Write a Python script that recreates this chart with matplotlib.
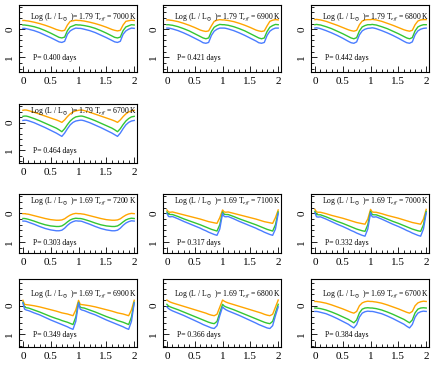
import numpy as np
import matplotlib
matplotlib.use("Agg")
import matplotlib.pyplot as plt
from matplotlib.ticker import MultipleLocator

plt.rcParams['font.family'] = ['Liberation Serif', 'DejaVu Serif']
plt.rcParams['mathtext.fontset'] = 'stix'

# phase grid for one pulsation cycle (second cycle is the same data shifted by 1)
phase = [0, .03, .06, .1, .2, .3, .4, .5, .6, .65, .7, .75, .8, .85, .9, .95, 1.0]

log_l = [1.79, 1.79, 1.79, 1.79, 1.69, 1.69, 1.69, 1.69, 1.69, 1.69]
teff = [7000, 6900, 6800, 6700, 7200, 7100, 7000, 6900, 6800, 6700]
period = [0.400, 0.421, 0.442, 0.464, 0.303, 0.317, 0.332, 0.349, 0.366, 0.384]

orange = [
    [-0.31, -0.31, -0.30, -0.29, -0.25, -0.20, -0.14, -0.07, 0.01, 0.04, 0.06, 0.04, -0.15, -0.28, -0.30, -0.32, -0.31],
    [-0.33, -0.33, -0.32, -0.31, -0.27, -0.21, -0.14, -0.06, 0.03, 0.06, 0.08, 0.06, -0.12, -0.28, -0.32, -0.34, -0.33],
    [-0.34, -0.35, -0.34, -0.33, -0.28, -0.21, -0.14, -0.06, 0.02, 0.05, 0.07, 0.04, -0.16, -0.29, -0.33, -0.34, -0.34],
    [-0.45, -0.46, -0.46, -0.44, -0.38, -0.31, -0.24, -0.17, -0.10, -0.06, -0.01, -0.10, -0.22, -0.32, -0.39, -0.43, -0.45],
    [0.01, 0.01, 0.02, 0.03, 0.08, 0.13, 0.18, 0.22, 0.24, 0.24, 0.23, 0.19, 0.12, 0.06, 0.02, 0.00, 0.01],
    [-0.12, -0.05, -0.04, -0.05, 0.00, 0.05, 0.10, 0.15, 0.20, 0.23, 0.26, 0.29, 0.31, 0.33, 0.35, 0.15, -0.12],
    [-0.14, -0.05, -0.04, -0.04, 0.01, 0.07, 0.12, 0.17, 0.23, 0.26, 0.29, 0.32, 0.34, 0.36, 0.38, 0.20, -0.14],
    [-0.19, -0.05, -0.04, -0.03, 0.00, 0.04, 0.09, 0.14, 0.19, 0.22, 0.25, 0.27, 0.29, 0.32, 0.35, 0.15, -0.19],
    [-0.20, -0.16, -0.13, -0.10, -0.04, 0.02, 0.08, 0.14, 0.20, 0.23, 0.26, 0.30, 0.33, 0.35, 0.30, 0.05, -0.20],
    [-0.15, -0.15, -0.14, -0.13, -0.09, -0.03, 0.04, 0.11, 0.19, 0.23, 0.26, 0.20, 0.00, -0.10, -0.14, -0.16, -0.15],
]
green = [
    [-0.15, -0.15, -0.14, -0.13, -0.09, -0.03, 0.05, 0.14, 0.24, 0.29, 0.31, 0.28, 0.05, -0.08, -0.12, -0.16, -0.15],
    [-0.16, -0.16, -0.15, -0.14, -0.09, -0.02, 0.06, 0.16, 0.26, 0.31, 0.34, 0.31, 0.08, -0.07, -0.13, -0.17, -0.16],
    [-0.16, -0.17, -0.16, -0.15, -0.09, -0.02, 0.07, 0.16, 0.26, 0.31, 0.34, 0.30, 0.06, -0.08, -0.13, -0.16, -0.16],
    [-0.23, -0.24, -0.24, -0.22, -0.15, -0.07, 0.02, 0.11, 0.20, 0.26, 0.33, 0.22, 0.07, -0.06, -0.15, -0.21, -0.23],
    [0.18, 0.18, 0.19, 0.21, 0.27, 0.34, 0.40, 0.44, 0.46, 0.46, 0.44, 0.38, 0.30, 0.23, 0.19, 0.17, 0.18],
    [-0.05, 0.03, 0.04, 0.04, 0.11, 0.19, 0.26, 0.33, 0.40, 0.44, 0.48, 0.52, 0.56, 0.59, 0.62, 0.40, -0.05],
    [-0.07, 0.04, 0.05, 0.05, 0.12, 0.20, 0.28, 0.35, 0.43, 0.47, 0.51, 0.55, 0.58, 0.61, 0.63, 0.40, -0.07],
    [-0.12, 0.05, 0.07, 0.08, 0.15, 0.22, 0.30, 0.38, 0.45, 0.48, 0.52, 0.55, 0.58, 0.62, 0.66, 0.40, -0.12],
    [-0.05, 0.01, 0.04, 0.07, 0.14, 0.22, 0.30, 0.38, 0.46, 0.50, 0.54, 0.58, 0.61, 0.63, 0.55, 0.25, -0.05],
    [0.08, 0.08, 0.09, 0.10, 0.15, 0.22, 0.30, 0.39, 0.48, 0.54, 0.60, 0.50, 0.25, 0.12, 0.08, 0.07, 0.08],
]
blue = [
    [-0.03, -0.03, -0.02, 0.00, 0.05, 0.12, 0.21, 0.30, 0.40, 0.45, 0.47, 0.43, 0.18, 0.06, 0.00, -0.04, -0.03],
    [-0.04, -0.04, -0.03, -0.01, 0.05, 0.13, 0.22, 0.32, 0.42, 0.48, 0.50, 0.47, 0.22, 0.07, 0.00, -0.04, -0.04],
    [-0.04, -0.05, -0.04, -0.02, 0.05, 0.13, 0.22, 0.32, 0.43, 0.48, 0.50, 0.45, 0.20, 0.06, 0.00, -0.03, -0.04],
    [-0.08, -0.09, -0.09, -0.07, 0.00, 0.09, 0.18, 0.28, 0.38, 0.44, 0.50, 0.38, 0.22, 0.08, -0.01, -0.06, -0.08],
    [0.27, 0.27, 0.28, 0.31, 0.38, 0.46, 0.53, 0.58, 0.61, 0.61, 0.59, 0.52, 0.42, 0.34, 0.29, 0.26, 0.27],
    [0.00, 0.11, 0.12, 0.11, 0.19, 0.28, 0.36, 0.44, 0.52, 0.57, 0.61, 0.66, 0.70, 0.74, 0.77, 0.55, 0.00],
    [-0.02, 0.12, 0.13, 0.12, 0.20, 0.29, 0.38, 0.46, 0.55, 0.60, 0.64, 0.69, 0.73, 0.77, 0.80, 0.55, -0.02],
    [-0.10, 0.12, 0.15, 0.17, 0.25, 0.32, 0.41, 0.50, 0.58, 0.62, 0.66, 0.70, 0.74, 0.79, 0.83, 0.55, -0.10],
    [0.04, 0.10, 0.14, 0.18, 0.26, 0.34, 0.43, 0.52, 0.61, 0.66, 0.70, 0.74, 0.78, 0.80, 0.70, 0.35, 0.04],
    [0.20, 0.20, 0.21, 0.23, 0.28, 0.36, 0.45, 0.55, 0.65, 0.72, 0.78, 0.66, 0.40, 0.26, 0.21, 0.19, 0.20],
]

# grid slot of each panel (row, col)
slots = [(0, 0), (0, 1), (0, 2), (1, 0), (2, 0), (2, 1), (2, 2), (3, 0), (3, 1), (3, 2)]

W, H = 436, 368
col_left = [19, 163, 311]
col_w = 118
row_top = [5, 104, 194, 279]
row_h = [67, 59, 59, 68]
row_ylim = [(1.52, -0.86), (1.47, -0.68), (1.39, -0.68), (1.45, -0.94)]

fig = plt.figure(figsize=(W / 100, H / 100), dpi=100)

ph = np.array(phase)
ph2 = np.concatenate([ph, ph[1:] + 1])

for i, (r, c) in enumerate(slots):
    ax = fig.add_axes([col_left[c] / W, 1 - (row_top[r] + row_h[r]) / H, col_w / W, row_h[r] / H])
    for vals, col in ((orange[i], '#ffa500'), (green[i], '#33c633'), (blue[i], '#4a7dff')):
        v = np.array(vals)
        ax.plot(ph2, np.concatenate([v, v[1:]]), color=col, lw=1.0)
    ax.set_xlim(-0.07, 2.05)
    ax.set_ylim(*row_ylim[r])
    ax.xaxis.set_major_locator(MultipleLocator(0.5))
    ax.xaxis.set_minor_locator(MultipleLocator(0.1))
    ax.yaxis.set_major_locator(MultipleLocator(1))
    ax.yaxis.set_minor_locator(MultipleLocator(0.2))
    ax.set_xticks([0, 0.5, 1, 1.5, 2])
    ax.set_xticklabels(['0', '0.5', '1', '1.5', '2'])
    ax.tick_params(which='both', direction='in', labelsize=8, width=0.6)
    ax.tick_params(which='major', length=4)
    ax.tick_params(which='minor', length=2)
    for lab in ax.get_yticklabels():
        lab.set_rotation(90)
        lab.set_va('center')
    for s in ax.spines.values():
        s.set_linewidth(0.8)
    ax.text(0.13, -0.42, r'Log (L / L$_\odot$ )= %.2f T$_{eff}$ = %d K' % (log_l[i], teff[i]),
            fontsize=5.5, va='center')
    ax.text(0.18, 1.04, 'P= %.3f days' % period[i], fontsize=5.5, va='center')

fig.savefig('out.png', dpi=100)
